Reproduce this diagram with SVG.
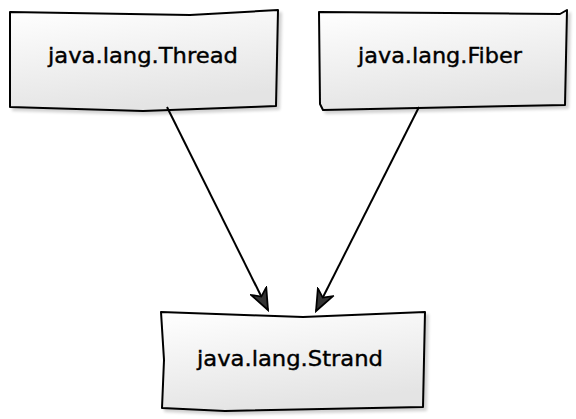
<svg xmlns="http://www.w3.org/2000/svg" width="576" height="419" viewBox="0 0 576 419">
<defs>
<linearGradient id="g" x1="0" y1="0" x2="0.3" y2="1">
<stop offset="0" stop-color="#ffffff"/>
<stop offset="1" stop-color="#e4e4e4"/>
</linearGradient>
<filter id="sh" x="-10%" y="-10%" width="130%" height="140%">
<feGaussianBlur in="SourceAlpha" stdDeviation="1.5"/>
<feOffset dx="3" dy="3" result="b"/>
<feComponentTransfer><feFuncA type="linear" slope="0.18"/></feComponentTransfer>
<feMerge><feMergeNode/><feMergeNode in="SourceGraphic"/></feMerge>
</filter>
<marker id="ah" viewBox="0 0 24 20" refX="22" refY="10" markerWidth="24" markerHeight="20" markerUnits="userSpaceOnUse" orient="auto">
<path d="M1,1.5 L22,10 L1,18.5 L7,10 Z" fill="#333" stroke="#000" stroke-width="1.8" stroke-linejoin="miter"/>
</marker>
</defs>
<style>
.box{fill:url(#g);stroke:#000;stroke-width:2;stroke-linejoin:round;filter:url(#sh)}
.lbl{font-family:"DejaVu Sans",sans-serif;font-size:22px;fill:#000;stroke:#000;stroke-width:0.4;text-anchor:middle;dominant-baseline:central}
.edge{fill:none;stroke:#000;stroke-width:2}
</style>
<g id="thread">
<path class="box" d="M10,12 L190,15 L278,10 L276,106 L143,111 L10,107 Z"/>
<text class="lbl" x="143" y="55" textLength="190" lengthAdjust="spacingAndGlyphs">java.lang.Thread</text>
</g>
<g id="fiber">
<path class="box" d="M319,12 L560,14 L567,10 L565,105 L323,110 L320,104 Z"/>
<text class="lbl" x="440" y="55" textLength="164" lengthAdjust="spacingAndGlyphs">java.lang.Fiber</text>
</g>
<g id="strand">
<path class="box" d="M161,312 L303,317 L425,312 L423,407 L225,411 L162,408 L164,360 Z"/>
<text class="lbl" x="290" y="358" textLength="186" lengthAdjust="spacingAndGlyphs">java.lang.Strand</text>
</g>
<g id="connectors">
<path class="edge" d="M167,107 L268,310" marker-end="url(#ah)"/>
<path class="edge" d="M419,107 L316,311" marker-end="url(#ah)"/>
</g>
</svg>
